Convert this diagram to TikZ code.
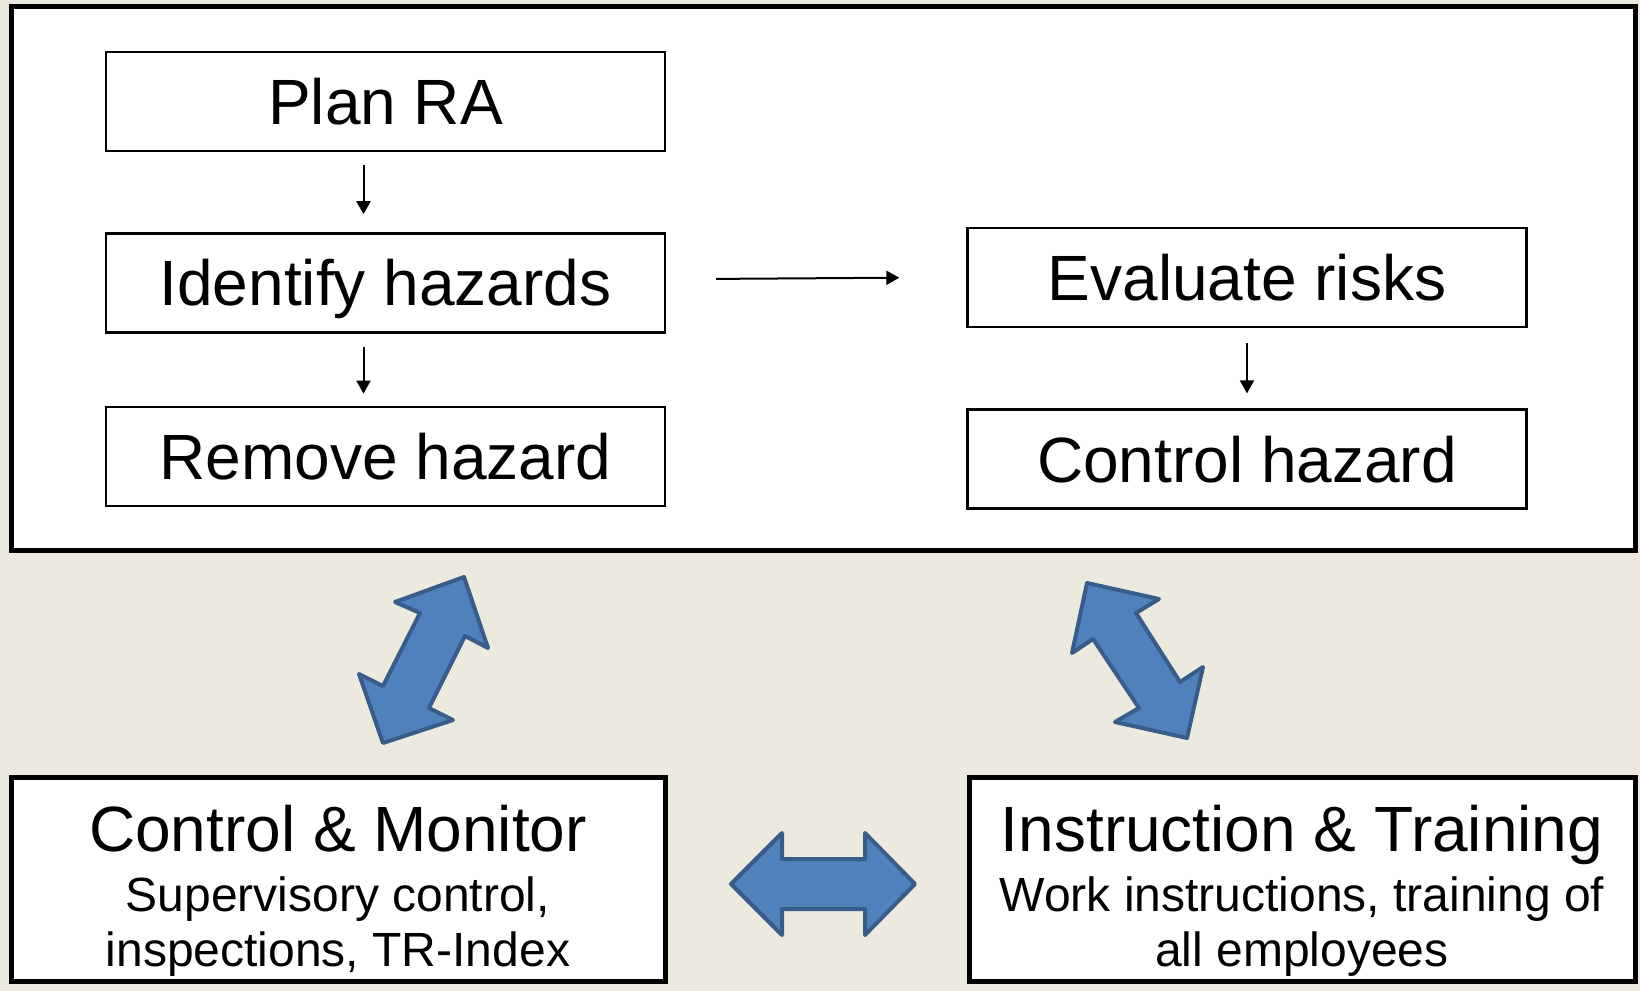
\documentclass[tikz,border=0pt]{standalone}
\usepackage{fontspec}
\setmainfont{Liberation Sans}
\usetikzlibrary{positioning,calc,arrows.meta}
\definecolor{paper}{HTML}{ECEADF}
\definecolor{blockfill}{HTML}{4F81BD}
\definecolor{blockline}{HTML}{385D8A}
\newcommand{\titlefont}{\fontsize{32}{38}\selectfont}
\begin{document}
\begin{tikzpicture}[x=0.5pt, y=-0.5pt,
    stepbox/.style = {draw, line width=1.2pt, fill=white, minimum width=279.5pt, minimum height=49.5pt,
      font=\titlefont, text height=23pt, text depth=0pt, inner sep=0pt},
    bigbox/.style = {draw, line width=2.5pt, fill=white, minimum height=102.25pt, align=center, inner sep=0pt,
      font=\fontsize{24}{27.75}\selectfont},
    flow/.style = {line width=1pt, -{Triangle[length=6.5pt,width=7pt]}},
    block/.style = {fill=blockfill, draw=blockline, line width=2pt, line join=round}]

  \fill[paper] (0,0) rectangle (1640,991);
  \draw[line width=2.5pt, fill=white] (11,6.5) rectangle (1635.5,550.5);

  \node[stepbox] (plan) at (385.5,101.5) {Plan RA};
  \node[stepbox, below=40pt of plan] (ident) {Identify hazards};
  \node[stepbox, below=36pt of ident] (remove) {Remove hazard};
  \node[stepbox] (eval) at (1247,277.7) {Evaluate risks};
  \node[stepbox, below=40pt of eval] (control) {Control hazard};

  \draw[flow] ($(plan.south)+(-22,13)$) -- ($(ident.north)+(-22,-18)$);
  \draw[flow] ($(ident.south)+(-22,13)$) -- ($(remove.north)+(-22,-12)$);
  \draw[flow] ($(ident.east)+(50,-4)$) -- ($(eval.west)+(-67,0)$);
  \draw[flow] ($(eval.south)+(0,15)$) -- ($(control.north)+(0,-15)$);

  \node[bigbox, minimum width=327pt] (monitor) at (338,879.25)
    {{\titlefont\rule{0pt}{35pt}Control \& Monitor}\\[2pt] Supervisory control,\hspace*{13pt}\\ inspections, TR-Index};
  \node[bigbox, minimum width=333pt] (training) at (1302,879.25)
    {{\titlefont\rule{0pt}{35pt}Instruction \& Training}\\[2pt] Work instructions, training of\\ all employees};

  \draw[block] (464,577) -- (488,648) -- (465,636) -- (429,708) -- (453,720) -- (383,743)
    -- (359,674) -- (383,686) -- (420,613) -- (395,602) -- cycle;
  \draw[block] (1087,583) -- (1159,599) -- (1136,613) -- (1180,682) -- (1203,667) -- (1187,738)
    -- (1115,722) -- (1139,708) -- (1093,639) -- (1072,653) -- cycle;
  \draw[block] (731,884) -- (782,833) -- (782,859) -- (865,859) -- (865,833) -- (915,884)
    -- (865,935) -- (865,909) -- (782,909) -- (782,935) -- cycle;

\end{tikzpicture}
\end{document}
